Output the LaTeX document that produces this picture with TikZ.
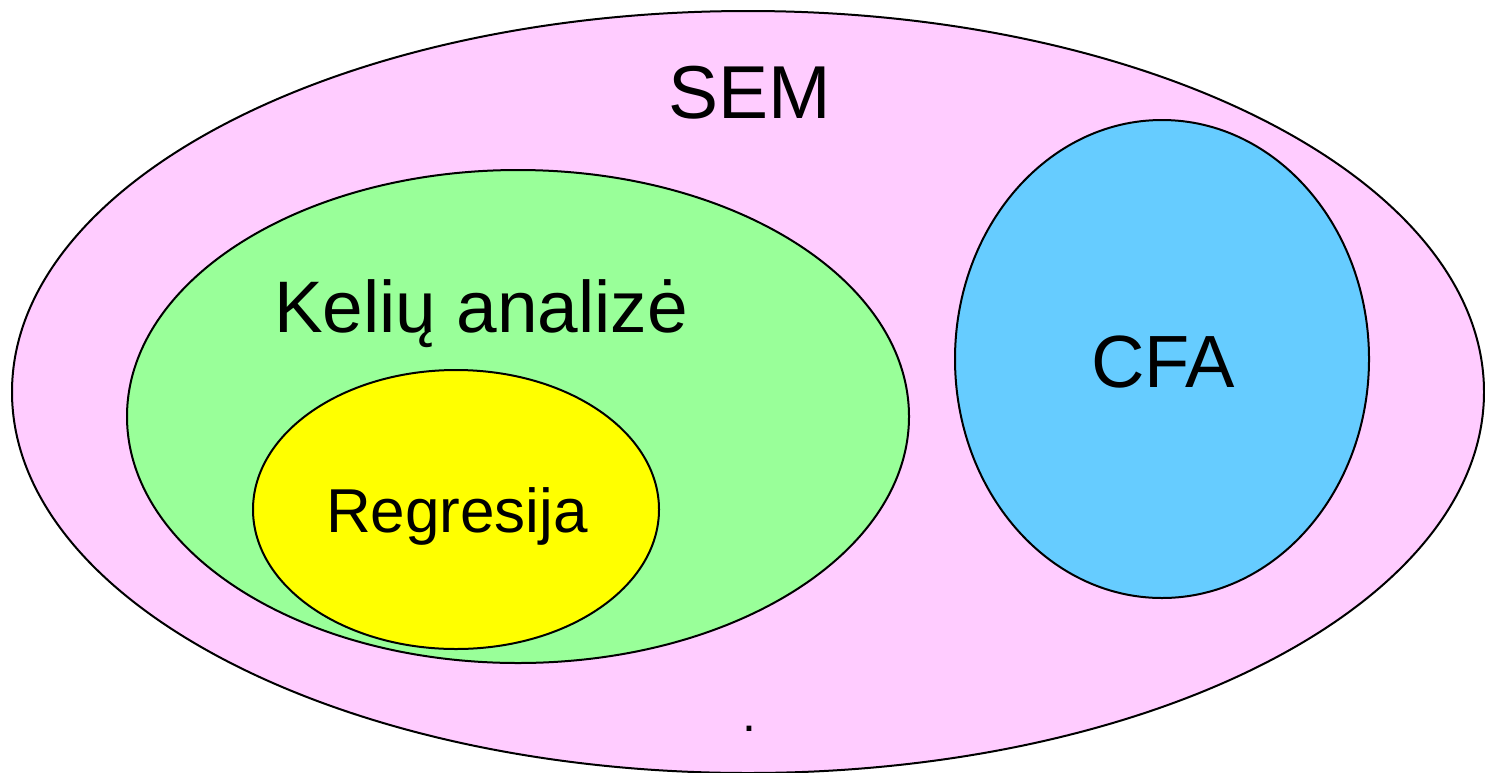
\documentclass[tikz,border=0pt]{standalone}
\usepackage{fontspec}
\setmainfont{Liberation Sans}
\usetikzlibrary{shapes.geometric}
\definecolor{semfill}{HTML}{FFCCFF}
\definecolor{pathfill}{HTML}{99FF99}
\definecolor{regfill}{HTML}{FFFF00}
\definecolor{cfafill}{HTML}{66CCFF}
\tikzset{
  setshape/.style={ellipse, draw=black, line width=2pt, inner sep=0pt},
  settext/.style={anchor=base, inner sep=0pt, text=black},
}
\newcommand{\fsz}[1]{\fontsize{#1}{#1}\selectfont}
\begin{document}
\begin{tikzpicture}[x=1pt, y=-1pt]
  \useasboundingbox (0,0) rectangle (1485,772);
  \clip (0,0) rectangle (1485,772);
  % nested sets
  \node[setshape, fill=semfill, minimum width=1472pt, minimum height=762pt] (sem) at (748,392) {};
  \node[setshape, fill=pathfill, minimum width=782pt, minimum height=493pt] (path) at (518,416.5) {};
  \node[setshape, fill=regfill, minimum width=406pt, minimum height=279pt] (reg) at (456,509.5) {};
  \node[setshape, fill=cfafill, minimum width=414pt, minimum height=478pt] (cfa) at (1162,359) {};
  % labels
  \node[settext, font=\fsz{75}] (semlabel) at (750,118) {SEM};
  \node[settext, font=\fsz{73}] (pathlabel) at (481,332) {Kelių analizė};
  \node[settext, font=\fsz{62}] (reglabel) at (457,532) {Regresija};
  \node[settext, font=\fsz{74}] (cfalabel) at (1163,387) {CFA};
  \node[settext, font=\fsz{50}] (dot) at (749,731) {.};
\end{tikzpicture}
\end{document}
